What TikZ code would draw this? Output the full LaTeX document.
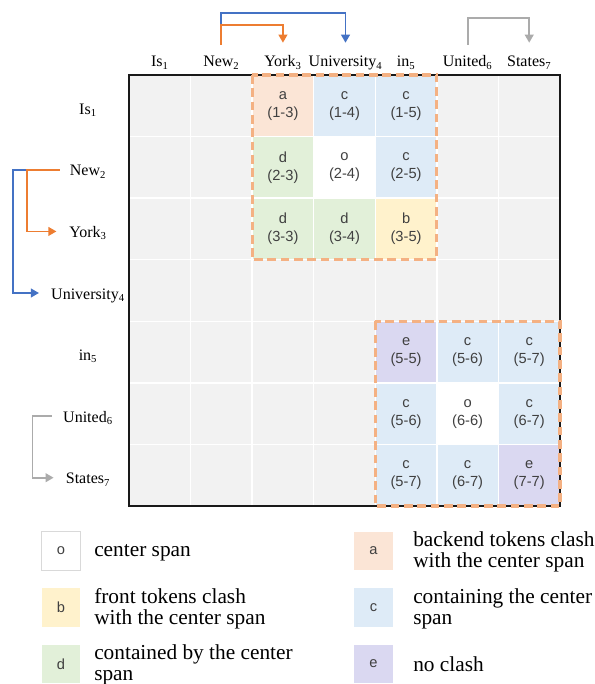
\documentclass[tikz,border=0pt]{standalone}
\usepackage{fontspec}
\setmainfont{Liberation Serif}
\newfontfamily\cellfont{Liberation Sans}
\usetikzlibrary{arrows.meta}

\definecolor{gridbg}{HTML}{F2F2F2}
\definecolor{celltext}{HTML}{404040}
\definecolor{clashA}{HTML}{FBE5D6}
\definecolor{clashB}{HTML}{FFF2CC}
\definecolor{clashC}{HTML}{DEEBF7}
\definecolor{clashD}{HTML}{E2F0D9}
\definecolor{clashE}{HTML}{DAD8F1}
\definecolor{spanline}{HTML}{F4B183}
\definecolor{legborder}{HTML}{D9D9D9}
\definecolor{arrblue}{HTML}{4472C4}
\definecolor{arrorange}{HTML}{ED7D31}
\definecolor{arrgray}{HTML}{ABABAB}

\begin{document}
\begin{tikzpicture}[x=0.75pt,y=-0.75pt,
  cellbox/.style={minimum width=46.18pt, minimum height=46.18pt, inner sep=0pt,
    align=center, text=celltext, font=\cellfont\fontsize{11}{13.5}\selectfont},
  collabel/.style={inner sep=0pt, anchor=base, text height=9pt, text depth=0pt,
    font=\fontsize{12}{14}\selectfont},
  rowlabel/.style={inner sep=0pt, text height=9pt, text depth=0pt,
    font=\fontsize{12}{14}\selectfont},
  gridline/.style={white, line width=1.1pt},
  spanbox/.style={draw=spanline, line width=2.3pt, dash pattern=on 6.5pt off 3.5pt},
  linkarrow/.style={line width=1.3pt, -{Triangle[length=6pt,width=6.5pt]}},
  legbox/.style={minimum width=28.9pt, minimum height=28.9pt, inner sep=0pt,
    text=celltext, font=\cellfont\fontsize{11}{13}\selectfont},
  legtext/.style={anchor=west, inner sep=0pt, align=left,
    font=\fontsize{16}{15.75}\selectfont},
  legline/.style={anchor=base west, inner sep=0pt,
    font=\fontsize{16}{15.75}\selectfont}
]
\useasboundingbox (0,0) rectangle (594,684);

% matrix background
\fill[gridbg] (129,75) rectangle (560,506);

% span cells, upper block
\node[cellbox, fill=clashA] (m13) at (282.93,105.79) {a\\(1-3)};
\node[cellbox, fill=clashC] (m14) at (344.50,105.79) {c\\(1-4)};
\node[cellbox, fill=clashC] (m15) at (406.07,105.79) {c\\(1-5)};
\node[cellbox, fill=clashD] (m23) at (282.93,167.36) {d\\(2-3)};
\node[cellbox, fill=white]  (m24) at (344.50,167.36) {o\\(2-4)};
\node[cellbox, fill=clashC] (m25) at (406.07,167.36) {c\\(2-5)};
\node[cellbox, fill=clashD] (m33) at (282.93,228.93) {d\\(3-3)};
\node[cellbox, fill=clashD] (m34) at (344.50,228.93) {d\\(3-4)};
\node[cellbox, fill=clashB] (m35) at (406.07,228.93) {b\\(3-5)};

% span cells, lower block
\node[cellbox, fill=clashE] (m55) at (406.07,352.07) {e\\(5-5)};
\node[cellbox, fill=clashC] (m56) at (467.64,352.07) {c\\(5-6)};
\node[cellbox, fill=clashC] (m57) at (529.21,352.07) {c\\(5-7)};
\node[cellbox, fill=clashC] (m65) at (406.07,413.64) {c\\(5-6)};
\node[cellbox, fill=white]  (m66) at (467.64,413.64) {o\\(6-6)};
\node[cellbox, fill=clashC] (m67) at (529.21,413.64) {c\\(6-7)};
\node[cellbox, fill=clashC] (m75) at (406.07,475.21) {c\\(5-7)};
\node[cellbox, fill=clashC] (m76) at (467.64,475.21) {c\\(6-7)};
\node[cellbox, fill=clashE] (m77) at (529.21,475.21) {e\\(7-7)};

% white separators
\foreach \k in {1,...,6} {
  \draw[gridline] ({129+\k*61.571},75) -- ({129+\k*61.571},506);
  \draw[gridline] (129,{75+\k*61.571}) -- (560,{75+\k*61.571});
}
\draw[line width=1.1pt, black!90] (129,75) rectangle (560,506);

% dashed span groups
\draw[spanbox] (252.14,75) rectangle (436.86,259.71);
\draw[spanbox] (375.29,321.29) rectangle (560,506);

% column labels
\node[collabel] (c1) at (159.79,67) {Is\textsubscript{1}};
\node[collabel] (c2) at (221.36,67) {New\textsubscript{2}};
\node[collabel] (c3) at (282.93,67) {York\textsubscript{3}};
\node[collabel] (c4) at (345.50,67) {University\textsubscript{4}};
\node[collabel] (c5) at (406.07,67) {in\textsubscript{5}};
\node[collabel] (c6) at (467.64,67) {United\textsubscript{6}};
\node[collabel] (c7) at (529.21,67) {States\textsubscript{7}};

% row labels
\node[rowlabel] (r1) at (88,108.29) {Is\textsubscript{1}};
\node[rowlabel] (r2) at (88,169.86) {New\textsubscript{2}};
\node[rowlabel] (r3) at (88,231.43) {York\textsubscript{3}};
\node[rowlabel] (r4) at (88,293.00) {University\textsubscript{4}};
\node[rowlabel] (r5) at (88,354.57) {in\textsubscript{5}};
\node[rowlabel] (r6) at (88,416.14) {United\textsubscript{6}};
\node[rowlabel] (r7) at (88,477.71) {States\textsubscript{7}};

% entity links above the columns
\draw[linkarrow, arrblue] ([yshift=7.5pt]c2.north) -- ([yshift=31.5pt]c2.north) -| ([yshift=9pt]c4.north);
\draw[linkarrow, arrorange] ([yshift=7.5pt]c2.north) -- ([yshift=22.5pt]c2.north) -| ([yshift=9pt]c3.north);
\draw[linkarrow, arrgray] ([yshift=7.5pt]c6.north) -- ([yshift=27.75pt]c6.north) -| ([yshift=9pt]c7.north);

% entity links beside the rows
\draw[linkarrow, arrblue] ([xshift=-7.5pt]r2.west) -- ++(-46.3,0) |- ([xshift=-9pt]r4.west);
\draw[linkarrow, arrorange] ([xshift=-7.5pt]r2.west) -- ++(-32.3,0) |- ([xshift=-9.5pt]r3.west);
\draw[linkarrow, arrgray] ([xshift=-8.25pt]r6.west) -- ++(-19.4,0) |- ([xshift=-9pt]r7.west);

% legend
\node[legbox, fill=white, draw=legborder, line width=1.1pt] (lo) at (61,551) {o};
\node[legline] (to) at (94,556.5) {center span};
\node[legbox, fill=clashB] (lb) at (61,607.5) {b};
\node[legtext] (tb) at (94,608.5) {front tokens clash\\with the center span};
\node[legbox, fill=clashD] (ld) at (61,664) {d};
\node[legtext] (td) at (94,665) {contained by the center\\span};
\node[legbox, fill=clashA] (la) at (373.5,551) {a};
\node[legtext] (ta) at (413,552) {backend tokens clash\\with the center span};
\node[legbox, fill=clashC] (lc) at (373.5,607.5) {c};
\node[legtext] (tc) at (413,608.5) {containing the center\\span};
\node[legbox, fill=clashE] (le) at (373.5,664) {e};
\node[legline] (te) at (413,671.5) {no clash};
\end{tikzpicture}
\end{document}
